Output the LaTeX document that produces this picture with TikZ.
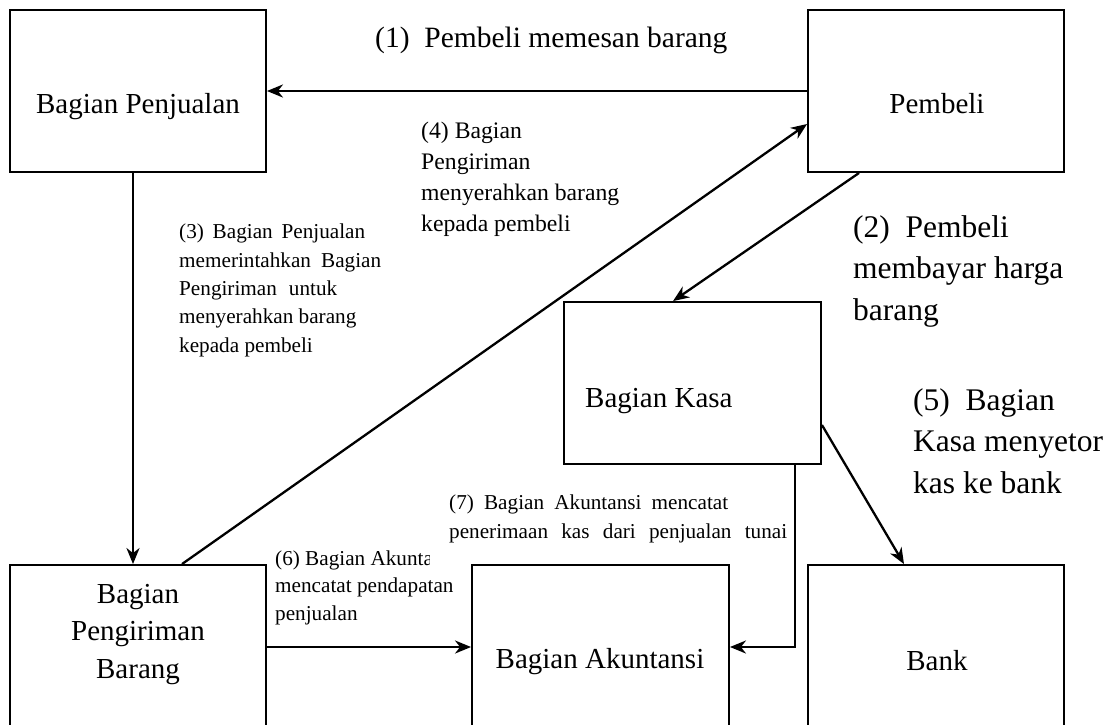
\documentclass[tikz,border=0pt]{standalone}
\usepackage{fontspec}
\setmainfont{Liberation Serif}
\usetikzlibrary{arrows.meta}

\begin{document}
\begin{tikzpicture}[x=1pt,y=-1pt,
  box/.style={draw, line width=1.9pt, minimum width=256pt, minimum height=162pt, inner sep=0pt},
  arr/.style={line width=2.3pt, -{Stealth[length=16pt,width=13pt,inset=5pt]}},
  boxtext/.style={font=\fontsize{29}{37.5}\selectfont, align=center, inner sep=0pt, anchor=base},
  big/.style={font=\fontsize{31.5}{41.5}\selectfont, align=left, inner sep=0pt, anchor=base west},
  small/.style={font=\fontsize{21.2}{28.3}\selectfont, align=left, inner sep=0pt, anchor=base west},
]
\useasboundingbox (0,0) rectangle (1117,724);

% departments
\node[box] (penjualan) at (138,91) {};
\node[box] (pembeli) at (936,91) {};
\node[box, minimum width=257pt] (kasa) at (692.5,383) {};
\node[box] (pengiriman) at (138,646) {};
\node[box, minimum width=257pt] (akuntansi) at (600.5,646) {};
\node[box] (bank) at (936,646) {};

% box captions (multi-line nodes sit on the baseline of their last line)
\node[boxtext] (tpenjualan) at (138,113) {Bagian Penjualan};
\node[boxtext] (tpembeli) at (937,113) {Pembeli};
\node[boxtext, anchor=base west] (tkasa) at (585,407) {Bagian Kasa};
\node[boxtext] (tpengiriman) at (138,678) {Bagian\\Pengiriman\\Barang};
\node[boxtext] (takuntansi) at (600,668) {Bagian Akuntansi};
\node[boxtext] (tbank) at (937,670) {Bank};

% flows
\draw[arr] (pembeli.west) -- (penjualan.east);
\draw[arr] ([xshift=52pt]pembeli.south west) -- ([xshift=110pt]kasa.north west);
\draw[arr] ([xshift=-5pt]penjualan.south) -- ([xshift=-5pt]pengiriman.north);
\draw[arr] ([xshift=44pt]pengiriman.north) -- ([yshift=-33pt]pembeli.west);
\draw[arr] ([yshift=-42pt]kasa.east) -- ([xshift=-32pt]bank.north);
\draw[arr] ([xshift=-27pt]kasa.south east) |- ([yshift=-1pt]akuntansi.east);
\draw[arr] ([yshift=-1pt]pengiriman.east) -- ([yshift=-1pt]akuntansi.west);

% step labels
\node[font=\fontsize{29.5}{35}\selectfont, inner sep=0pt, anchor=base west] (l1) at (375,47)
  {(1)\ \ Pembeli memesan barang};
\node[big] (l2) at (853,320) {(2)\ \ Pembeli\\membayar harga\\barang};
\node[big] (l5) at (913,493) {(5)\ \ Bagian\\Kasa menyetor\\kas ke bank};
\node[small] (l3) at (179,352)
  {\makebox[186pt][s]{(3) Bagian Penjualan}\\
   \makebox[202pt][s]{memerintahkan Bagian}\\
   \makebox[158pt][s]{Pengiriman untuk}\\
   menyerahkan barang\\
   kepada pembeli};
\node[small, font=\fontsize{23.7}{31}\selectfont] (l4) at (421,231)
  {(4) Bagian\\Pengiriman\\menyerahkan barang\\kepada pembeli};
\begin{scope}
  \clip (260,530) -- (429,530) -- (429,573) -- (470,573) -- (470,640) -- (260,640) -- cycle;
  \node[small, font=\fontsize{21.2}{27.5}\selectfont] (l6) at (275,620)
    {(6) Bagian Akuntansi\\mencatat pendapatan\\penjualan};
\end{scope}
\node[small, font=\fontsize{21.2}{29}\selectfont] (l7) at (449,538)
  {\makebox[279pt][s]{(7) Bagian Akuntansi mencatat}\\
   \makebox[338pt][s]{penerimaan kas dari penjualan tunai}};
\end{tikzpicture}
\end{document}
